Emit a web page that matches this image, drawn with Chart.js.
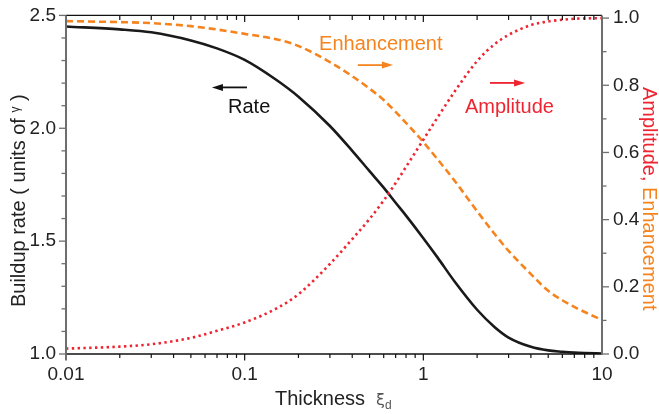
<!DOCTYPE html>
<html>
<head>
<meta charset="utf-8">
<script src="https://cdn.jsdelivr.net/npm/chart.js@4.4.1/dist/chart.umd.min.js"></script>
<style>
html,body{margin:0;padding:0;background:#fff;}
canvas{display:block;}
</style>
</head>
<body>
<canvas id="c" width="659" height="414"></canvas>
<script>
// ---- data ----
const thickness = [0.01,0.02,0.03,0.05,0.07,0.1,0.15,0.2,0.3,0.4,0.5,0.6,0.7,0.8,1,1.2,1.5,2,2.5,3,4,5,6,7,8,10];
const rateValues = [2.451,2.438,2.425,2.389,2.354,2.303,2.215,2.14,2.01,1.90,1.810,1.737,1.670,1.613,1.513,1.428,1.32,1.196,1.12,1.073,1.032,1.016,1.010,1.006,1.004,1.002];
const enhancementValues = [0.991,0.988,0.985,0.976,0.966,0.953,0.937,0.917,0.869,0.827,0.790,0.756,0.721,0.688,0.631,0.580,0.515,0.425,0.358,0.307,0.238,0.188,0.160,0.140,0.125,0.101];
const amplitudeValues = [0.016,0.022,0.029,0.048,0.069,0.094,0.135,0.178,0.268,0.342,0.402,0.457,0.509,0.557,0.638,0.704,0.782,0.872,0.922,0.950,0.979,0.990,0.995,0.998,0.999,1.0];
const xTickValues = [0.01,0.1,1,10];
const leftTickValues = [1.0,1.5,2.0,2.5];
const rightTickValues = [0,0.2,0.4,0.6,0.8,1.0];

const FONT = '"Liberation Sans", Arial, Helvetica, sans-serif';
const ORANGE = '#f5841f';
const RED = '#ee2431';
const AXISGREY = '#6e6e6e';

const toPts = vals => thickness.map((t,i)=>({x:t,y:vals[i]}));

function line(ctx,x1,y1,x2,y2){ctx.beginPath();ctx.moveTo(x1,y1);ctx.lineTo(x2,y2);ctx.stroke();}
function arrow(ctx,x1,y,x2,color){
  ctx.strokeStyle=color;ctx.fillStyle=color;ctx.lineWidth=1.8;
  const dir = Math.sign(x2-x1);
  line(ctx,x1,y,x2-dir*9,y);
  ctx.beginPath();ctx.moveTo(x2,y);ctx.lineTo(x2-dir*11,y-3.5);ctx.lineTo(x2-dir*11,y+3.5);ctx.closePath();ctx.fill();
}

const deco = {
  id:'deco',
  afterDraw(chart){
    const {ctx, chartArea:a, scales:{x,y,y1}} = chart;
    ctx.save();
    // frame top & bottom
    ctx.strokeStyle='#111';ctx.lineWidth=1.3;
    line(ctx,a.left,a.bottom,a.right,a.bottom);
    line(ctx,a.left,a.top,a.right,a.top);
    // x ticks (bottom outward, top inward)
    for(let n=-2;n<=0;n++){
      for(let k=1;k<=9;k++){
        const v=k*Math.pow(10,n);
        const px=x.getPixelForValue(v);
        const major = k===1;
        ctx.lineWidth=1.2;
        line(ctx,px,a.bottom,px,a.bottom+(major?6.5:4));
        line(ctx,px,a.top,px,a.top+(major?6.5:4.5));
      }
    }
    // grey side axes
    ctx.strokeStyle=AXISGREY;ctx.lineWidth=2;
    line(ctx,a.left,a.top,a.left,a.bottom+0.7);
    line(ctx,a.right,a.top,a.right,a.bottom+0.7);
    ctx.lineWidth=1.3;
    for(let i=0;i<=15;i++){
      const v=1+i*0.1;
      const py=y.getPixelForValue(v);
      const major = i%5===0;
      line(ctx,a.left,py,a.left-(major?7:4.5),py);
    }
    for(let i=0;i<=10;i++){
      const v=i*0.1;
      const py=y1.getPixelForValue(v);
      const major = i%2===0;
      line(ctx,a.right,py,a.right+(major?7:4.5),py);
    }

    // left title
    ctx.fillStyle='#222';
    ctx.textBaseline='alphabetic';
    const big='20px '+FONT, small='12px '+FONT;
    ctx.font=big;
    const p1='Buildup rate ( units of ', p3=' )';
    const w1=ctx.measureText(p1).width, w3=ctx.measureText(p3).width;
    ctx.font=small; const w2=ctx.measureText('γ').width;
    const totL=w1+w2+w3;
    const cyL=(a.top+a.bottom)/2+16;
    ctx.save();
    ctx.translate(25,cyL+totL/2);
    ctx.rotate(-Math.PI/2);
    ctx.textAlign='left';
    ctx.font=big; ctx.fillText(p1,0,0);
    ctx.font=small; ctx.fillText('γ',w1,-6);
    ctx.font=big; ctx.fillText(p3,w1+w2,0);
    ctx.restore();

    // right title
    ctx.font=big;
    const r1='Amplitude,', r2=' Enhancement';
    const rw1=ctx.measureText(r1).width, rw2=ctx.measureText(r2).width;
    const cyR=(a.top+a.bottom)/2+14;
    ctx.save();
    ctx.translate(643,cyR-(rw1+rw2)/2);
    ctx.rotate(Math.PI/2);
    ctx.textAlign='left';
    ctx.fillStyle=RED; ctx.fillText(r1,0,0);
    ctx.fillStyle=ORANGE; ctx.fillText(r2,rw1,0);
    ctx.restore();

    // x title
    ctx.font=big; ctx.fillStyle='#222'; ctx.textAlign='left';
    ctx.fillText('Thickness',275,405);
    ctx.fillStyle='#555';
    ctx.font='16px "DejaVu Sans", '+FONT;
    ctx.fillText('ξ',376,405);
    ctx.font='12px '+FONT;
    ctx.fillText('d',385,409);

    // annotations
    ctx.font=big;
    ctx.fillStyle='#111';
    ctx.fillText('Rate',x.getPixelForValue(0.0807),y.getPixelForValue(2.066));
    arrow(ctx,x.getPixelForValue(0.103),y.getPixelForValue(2.181),x.getPixelForValue(0.0656),'#111');
    ctx.font=big; ctx.fillStyle=ORANGE;
    ctx.fillText('Enhancement',x.getPixelForValue(0.261),y1.getPixelForValue(0.905));
    arrow(ctx,x.getPixelForValue(0.43),y1.getPixelForValue(0.860),x.getPixelForValue(0.676),ORANGE);
    ctx.font=big; ctx.fillStyle=RED;
    ctx.fillText('Amplitude',x.getPixelForValue(1.71),y1.getPixelForValue(0.717));
    arrow(ctx,x.getPixelForValue(2.36),y1.getPixelForValue(0.807),x.getPixelForValue(3.71),RED);
    ctx.restore();
  }
};

const hiddenGrid = {display:true, drawOnChartArea:false, color:'rgba(0,0,0,0)', tickLength:7};
const tickFont = {family:FONT, size:19};

new Chart(document.getElementById('c'),{
  type:'line',
  data:{datasets:[
    {label:'Amplitude',data:toPts(amplitudeValues),yAxisID:'y1',borderColor:RED,borderWidth:2.6,borderDash:[2.4,3.4],pointRadius:0,cubicInterpolationMode:'monotone',fill:false},
    {label:'Enhancement',data:toPts(enhancementValues),yAxisID:'y1',borderColor:ORANGE,borderWidth:2.6,borderDash:[7,4],pointRadius:0,cubicInterpolationMode:'monotone',fill:false},
    {label:'Rate',data:toPts(rateValues),yAxisID:'y',borderColor:'#1a1a1a',borderWidth:2.6,pointRadius:0,cubicInterpolationMode:'monotone',fill:false}
  ]},
  options:{
    responsive:false, animation:false, devicePixelRatio:1,
    layout:{padding:{top:15,left:0,right:0,bottom:0}},
    plugins:{legend:{display:false},tooltip:{enabled:false}},
    scales:{
      x:{type:'logarithmic',position:'bottom',min:0.01,max:10,
        afterBuildTicks:s=>{s.ticks=xTickValues.map(v=>({value:v,major:true}));},
        afterFit:s=>{s.height=60;},
        grid:hiddenGrid,border:{display:false},
        ticks:{font:tickFont,color:'#222',padding:2,maxRotation:0,autoSkip:false,callback:v=>String(v)}},
      y:{type:'linear',position:'left',min:1,max:2.5,
        afterBuildTicks:s=>{s.ticks=leftTickValues.map(v=>({value:v}));},
        afterFit:s=>{s.width=66;},
        grid:hiddenGrid,border:{display:false},
        ticks:{font:tickFont,color:'#222',padding:3,callback:v=>Number(v).toFixed(1)}},
      y1:{type:'linear',position:'right',min:0,max:1.008,
        afterBuildTicks:s=>{s.ticks=rightTickValues.map(v=>({value:v}));},
        afterFit:s=>{s.width=57;},
        grid:hiddenGrid,border:{display:false},
        ticks:{font:tickFont,color:'#222',padding:4,callback:v=>Number(v).toFixed(1)}}
    }
  },
  plugins:[deco]
});
</script>
</body>
</html>
